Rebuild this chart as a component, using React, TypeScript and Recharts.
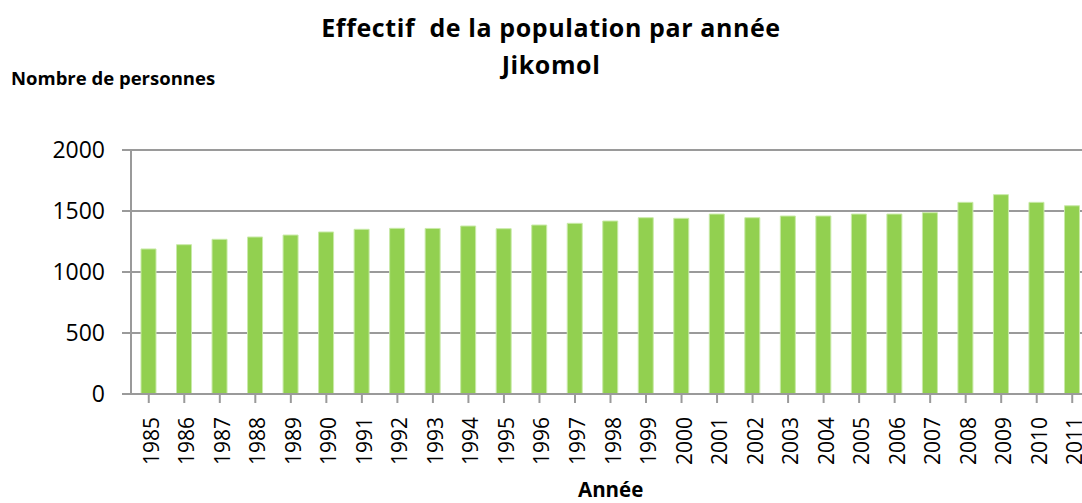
import { BarChart, Bar, XAxis, YAxis, CartesianGrid } from 'recharts';

const YEARS = [
  '1985', '1986', '1987', '1988', '1989', '1990', '1991', '1992', '1993',
  '1994', '1995', '1996', '1997', '1998', '1999', '2000', '2001', '2002',
  '2003', '2004', '2005', '2006', '2007', '2008', '2009', '2010', '2011',
];
const POPULATION = [
  1189, 1224, 1268, 1287, 1303, 1328, 1350, 1358, 1357,
  1377, 1355, 1385, 1399, 1418, 1445, 1440, 1475, 1445,
  1459, 1459, 1475, 1475, 1486, 1571, 1634, 1571, 1543,
];
const Y_TICKS = [0, 500, 1000, 1500, 2000];

const data = YEARS.map((year, i) => ({ year, value: POPULATION[i] }));

const FONT = '"Open Sans", "Liberation Sans", sans-serif';
const GRID = '#9a9a9a';

function YearTick(props: any) {
  const { x, y, payload } = props;
  return (
    <text
      transform={`translate(${x + 2}, ${y + 12}) rotate(-90)`}
      textAnchor="end"
      dominantBaseline="central"
      fontSize={21}
      fontFamily={FONT}
      fill="#000"
    >
      {payload.value}
    </text>
  );
}

export default function App() {
  return (
    <div style={{ position: 'fixed', left: 0, top: 0, width: 1082, height: 503, overflow: 'hidden', background: '#fff', fontFamily: FONT }}>
      <div style={{ position: 'absolute', left: 0, width: 1102, top: 9, textAlign: 'center', fontWeight: 700, fontSize: 25, lineHeight: '36.6px', letterSpacing: 0.6 }}>
        Effectif&nbsp; de la population par année<br />Jikomol
      </div>
      <div style={{ position: 'absolute', left: 11, top: 68.5, fontWeight: 700, fontSize: 18.5, lineHeight: '18.5px', whiteSpace: 'nowrap' }}>
        Nombre de personnes
      </div>
      <div style={{ position: 'absolute', left: 578, top: 478.5, fontWeight: 700, fontSize: 20.5, lineHeight: '20.5px' }}>
        Année
      </div>
      <BarChart
        width={1090}
        height={503}
        data={data}
        margin={{ top: 150, right: 0, bottom: 0, left: 0 }}
        barSize={15}
      >
        <CartesianGrid vertical={false} stroke={GRID} strokeWidth={2} />
        <XAxis
          dataKey="year"
          height={109}
          interval={0}
          tick={<YearTick />}
          tickLine={{ stroke: GRID, strokeWidth: 2 }}
          axisLine={{ stroke: GRID, strokeWidth: 2 }}
          tickSize={9}
        />
        <YAxis
          width={131}
          domain={[0, 2000]}
          ticks={Y_TICKS}
          interval={0}
          tick={{ fontSize: 23, fill: '#000', fontFamily: FONT }}
          tickLine={{ stroke: GRID, strokeWidth: 2 }}
          axisLine={{ stroke: GRID, strokeWidth: 2 }}
          tickSize={9}
          tickMargin={17}
        />
        <Bar dataKey="value" fill="#92D050" stroke="#c9eaa8" strokeWidth={1} isAnimationActive={false} />
      </BarChart>
    </div>
  );
}
